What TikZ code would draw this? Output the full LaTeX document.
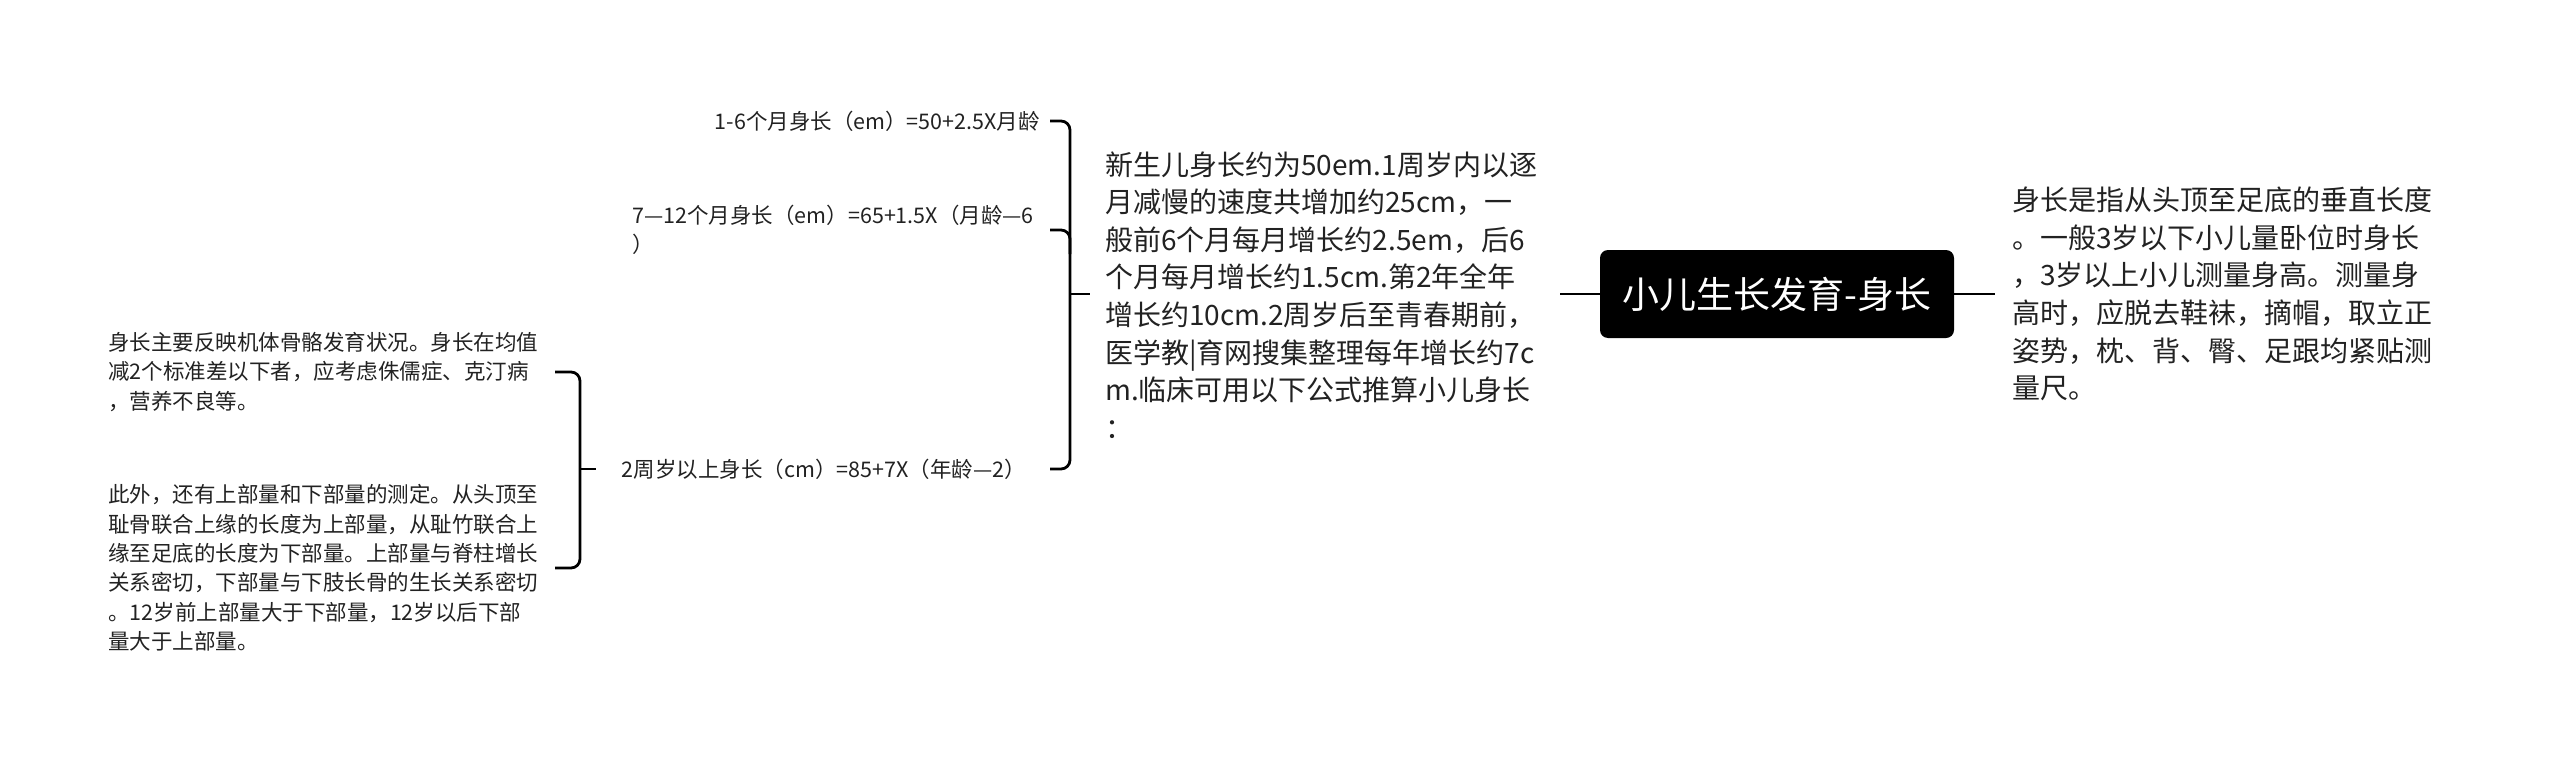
\documentclass[tikz,border=0pt]{standalone}
\usepackage{fontspec}
\setmainfont{Noto Sans CJK SC}
\definecolor{txt}{HTML}{222222}
\begin{document}
\begin{tikzpicture}[x=1pt,y=1pt,
  conn/.style={line width=2.8pt, draw=black, rounded corners=9pt},
  big/.style={font=\fontsize{28}{37.6}\selectfont, text=txt, align=left, inner sep=0pt, anchor=west},
  small/.style={font=\fontsize{21.5}{29.4}\selectfont, text=txt, align=left, inner sep=0pt, anchor=west},
  root/.style={fill=black, text=white, rounded corners=8pt, minimum width=354pt, minimum height=88pt, font=\fontsize{37}{44}\selectfont, inner sep=0pt}
]
\useasboundingbox[fill=white] (0,0) rectangle (2560,-758);
% nodes
\node[root] (root) at (1777,-294) {小儿生长发育-身长};
\node[big] (rt) at (2012,-294) {身长是指从头顶至足底的垂直长度\\。一般3岁以下小儿量卧位时身长\\，3岁以上小儿测量身高。测量身\\高时，应脱去鞋袜，摘帽，取立正\\姿势，枕、背、臀、足跟均紧贴测\\量尺。};
\node[big] (mt) at (1105,-295) {新生儿身长约为50em.1周岁内以逐\\月减慢的速度共增加约25cm，一\\般前6个月每月增长约2.5em，后6\\个月每月增长约1.5cm.第2年全年\\增长约10cm.2周岁后至青春期前，\\医学教|育网搜集整理每年增长约7c\\m.临床可用以下公式推算小儿身长\\：};
\node[small, anchor=east] (c1) at (1040,-121) {1-6个月身长（em）=50+2.5X月龄};
\node[small, anchor=east] (c2) at (1034,-230) {7—12个月身长（em）=65+1.5X（月龄—6\\）};
\node[small, anchor=east] (c3) at (1026,-469) {2周岁以上身长（cm）=85+7X（年龄—2）};
\node[small] (ta) at (108,-372) {身长主要反映机体骨骼发育状况。身长在均值\\减2个标准差以下者，应考虑侏儒症、克汀病\\，营养不良等。};
\node[small] (tb) at (108,-568) {此外，还有上部量和下部量的测定。从头顶至\\耻骨联合上缘的长度为上部量，从耻竹联合上\\缘至足底的长度为下部量。上部量与脊柱增长\\关系密切，下部量与下肢长骨的生长关系密切\\。12岁前上部量大于下部量，12岁以后下部\\量大于上部量。};
% reference coordinates
\coordinate (k1) at (1050,0);
\coordinate (b1) at (1070,0);
\coordinate (k2) at (555,0);
\coordinate (b2) at (580,0);
\coordinate (ml) at (1560,-294);
\coordinate (rr) at (1995,-294);
% connectors
\draw[conn] (ml) -- (root.west);
\draw[conn] (root.east) -- (rr);
\draw[conn] (c1.east -| k1) -- (b1 |- c1.east) -- (b1 |- c3.east) -- (c3.east -| k1);
\draw[conn] (c2.east -| k1) -- (b1 |- c2.east) -- ++(0,-24);
\draw[conn] (b1 |- ml) -- ++(20,0);
\draw[conn] (ta.east -| k2) -- (b2 |- ta.east) -- (b2 |- tb.east) -- (tb.east -| k2);
\draw[conn] (b2 |- c3.west) -- ++(16,0);
\end{tikzpicture}
\end{document}
